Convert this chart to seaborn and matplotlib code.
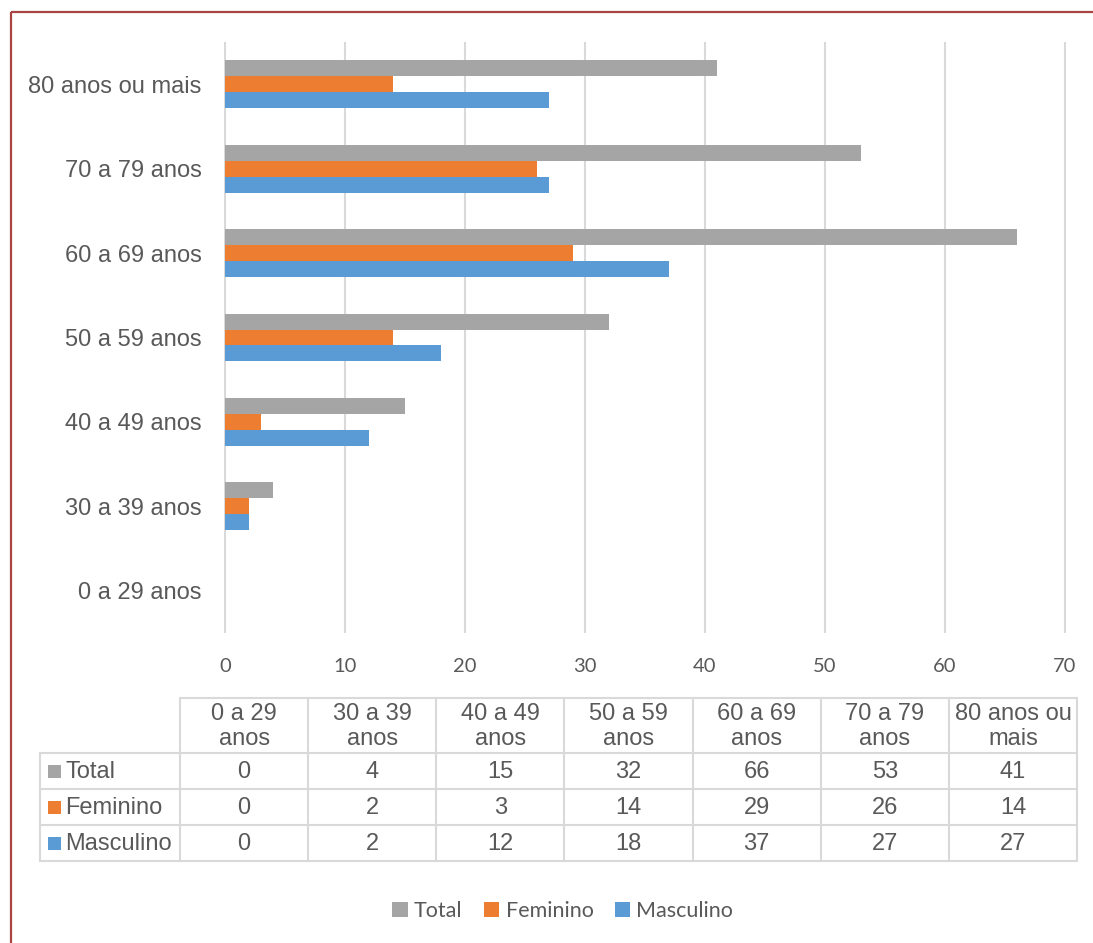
import numpy as np
import pandas as pd
import seaborn as sns
import matplotlib.pyplot as plt
from matplotlib.patches import Rectangle

# data
age_groups = ["0 a 29 anos", "30 a 39 anos", "40 a 49 anos", "50 a 59 anos",
              "60 a 69 anos", "70 a 79 anos", "80 anos ou mais"]
table_headers = ["0 a 29\nanos", "30 a 39\nanos", "40 a 49\nanos", "50 a 59\nanos",
                 "60 a 69\nanos", "70 a 79\nanos", "80 anos ou\nmais"]
series = ["Total", "Feminino", "Masculino"]
total = [0, 4, 15, 32, 66, 53, 41]
feminino = [0, 2, 3, 14, 29, 26, 14]
masculino = [0, 2, 12, 18, 37, 27, 27]
x_ticks = [0, 10, 20, 30, 40, 50, 60, 70]

colors = ["#A5A5A5", "#ED7D31", "#5B9BD5"]
TXT = "#595959"
GRID = "#D9D9D9"

df = pd.DataFrame({
    "faixa": age_groups * 3,
    "serie": np.repeat(series, len(age_groups)),
    "valor": total + feminino + masculino,
})

sns.set_style("white")
plt.rcParams["font.family"] = ["Liberation Sans", "DejaVu Sans"]

W, H = 1093, 943
fig = plt.figure(figsize=(W / 100, H / 100), dpi=100)

# bar chart
ax = fig.add_axes([224 / W, 1 - 633 / H, 842 / W, 591 / H])
for t in x_ticks:
    ax.axvline(t, color=GRID, lw=1.5, zorder=0)
sns.barplot(data=df, y="faixa", x="valor", hue="serie", order=age_groups[::-1],
            hue_order=series, palette=colors, orient="h", width=0.567,
            saturation=1, errorbar=None, linewidth=0, legend=False, ax=ax)
ax.set_xlim(-0.08, 70.08)
ax.set_ylim(6.5, -0.5)
ax.set_xticks(x_ticks)
ax.set_xlabel("")
ax.set_ylabel("")
ax.grid(False)
for s in ax.spines.values():
    s.set_visible(False)
ax.tick_params(axis="y", length=0, pad=16, labelsize=17, labelcolor=TXT)
ax.tick_params(axis="x", length=0, pad=18, labelsize=14.5, labelcolor=TXT)
for lab in ax.get_xticklabels():
    lab.set_family("Lato")

# data table drawn in pixel coordinates
tab = fig.add_axes([0, 0, 1, 1], facecolor="none")
tab.set_xlim(0, W)
tab.set_ylim(H, 0)
tab.axis("off")

x_lab, x0, cw = 40, 180, 128.15
y_head, y_rows = 698, [753, 789, 825, 861]
x_end = x0 + cw * len(age_groups)
lw = 1.5
tab.plot([x0, x_end], [y_head, y_head], color=GRID, lw=lw)
for y in y_rows:
    tab.plot([x_lab, x_end], [y, y], color=GRID, lw=lw)
tab.plot([x_lab, x_lab], [y_rows[0], y_rows[-1]], color=GRID, lw=lw)
for k in range(len(age_groups) + 1):
    xx = x0 + k * cw
    tab.plot([xx, xx], [y_head, y_rows[-1]], color=GRID, lw=lw)

for k, h in enumerate(table_headers):
    tab.text(x0 + (k + 0.5) * cw, (y_head + y_rows[0]) / 2 + 1, h, ha="center",
             va="center", fontsize=17, color=TXT, linespacing=1.18)

rows = [total, feminino, masculino]
for r, (name, vals, c) in enumerate(zip(series, rows, colors)):
    yc = (y_rows[r] + y_rows[r + 1]) / 2
    tab.add_patch(Rectangle((48, yc - 6), 13, 13, color=c, lw=0))
    tab.text(65, yc + 1, name, ha="left", va="center", fontsize=17, color=TXT)
    for k, v in enumerate(vals):
        tab.text(x0 + (k + 0.5) * cw, yc + 1, str(v), ha="center", va="center",
                 fontsize=17, color=TXT)

# border: only top and left edges fall inside the picture
tab.plot([11, W], [12, 12], color="#A94442", lw=1.6, solid_capstyle="butt")
tab.plot([11, 11], [12, H], color="#A94442", lw=1.6, solid_capstyle="butt")

# legend
fig.legend(ax.containers, series, loc="center", bbox_to_anchor=(0.515, 1 - 911 / H),
           ncol=3, frameon=False, handlelength=0.7, handleheight=0.7,
           handletextpad=0.3, columnspacing=1.0,
           prop={"family": "Lato", "size": 15.5}, labelcolor=TXT)

plt.savefig("out.png", dpi=100)
plt.close()
